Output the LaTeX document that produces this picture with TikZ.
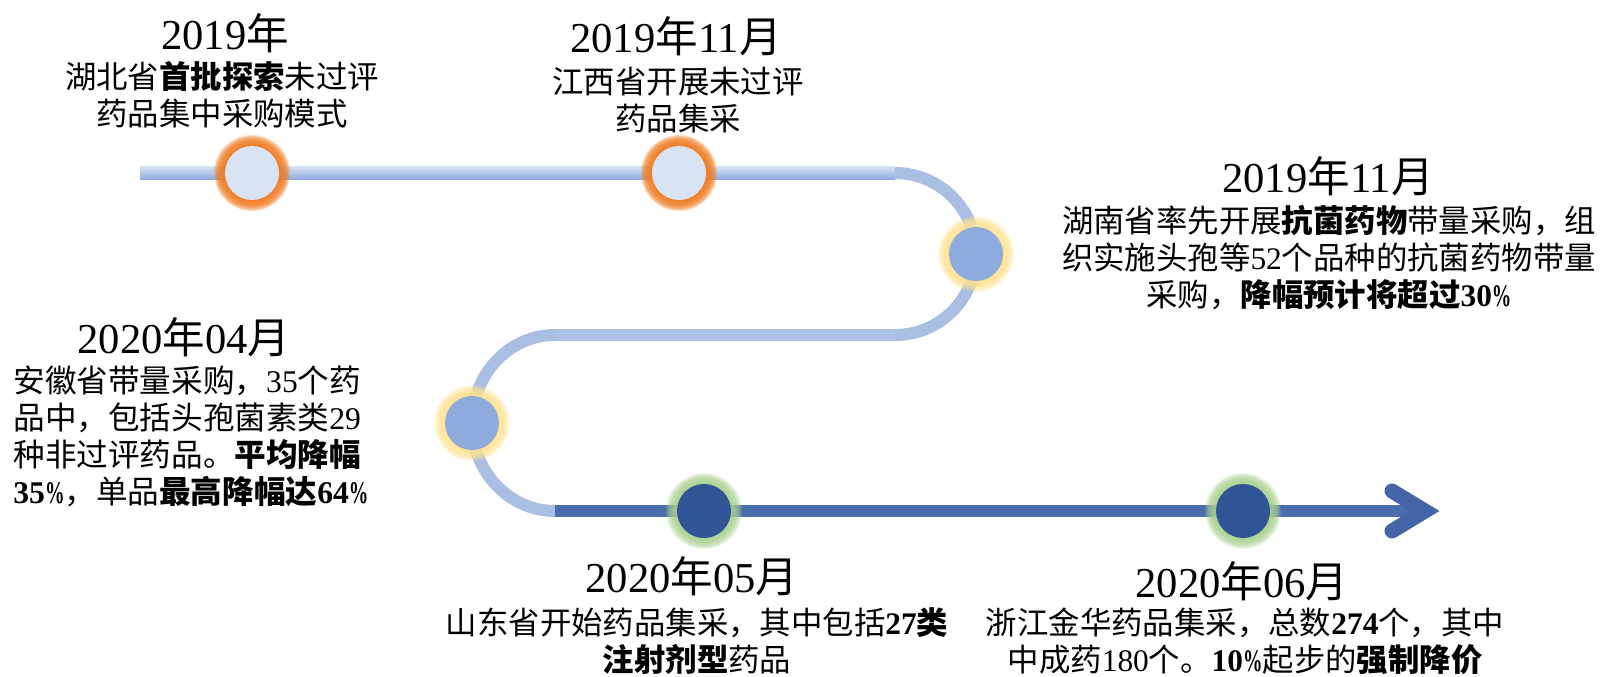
\documentclass[tikz,border=0pt]{standalone}
\usepackage{fontspec}
\usetikzlibrary{calc}
\setmainfont{Noto Sans CJK SC}
\newfontfamily\latf{Liberation Serif}
\newcommand\D[1]{{\latf #1}}
\newcommand\pct{\scalebox{0.62}[1]{\%}}
\definecolor{toplight}{HTML}{D6E0F2}
\definecolor{topdark}{HTML}{8EA9DB}
\definecolor{arccol}{HTML}{A9BEE3}
\definecolor{midcol}{HTML}{AEC2E6}
\definecolor{botcol}{HTML}{4A6DAE}
\definecolor{headcol}{HTML}{4466A8}
\definecolor{paleblue}{HTML}{DAE3F3}
\definecolor{midblue}{HTML}{8FAADC}
\definecolor{darkblue}{HTML}{2F5597}
\definecolor{glowor}{HTML}{F07F26}
\definecolor{glowye}{HTML}{FFE38F}
\definecolor{glowgr}{HTML}{A9D18E}
\newcommand\myglow[3]{\foreach \r in {27,28,...,38}{\fill[#2, opacity=#3] (#1) circle[radius=\r*0.5pt];}}
\begin{document}
\begin{tikzpicture}[x=0.5pt,y=-0.5pt,
  title/.style={font=\fontsize{21.3pt}{24pt}\selectfont, inner sep=0pt, align=center},
  body/.style={font=\fontsize{15.7pt}{18.5pt}\selectfont, inner sep=0pt, align=center},
  dot/.style={circle, minimum size=27pt, inner sep=0pt},
  pathline/.style={line width=6pt},
]
\useasboundingbox (0,0) rectangle (1604,676);
\fill[white] (0,0) rectangle (1604,676);
% path coordinates
\coordinate (s) at (140,173);
\coordinate (a1) at (895,173);
\coordinate (a2) at (895,335);
\coordinate (b1) at (555,335);
\coordinate (b2) at (555,511);
\coordinate (v) at (1425,511);
\coordinate (h1) at (1392,491);
\coordinate (h2) at (1392,531);
% lines
\shade[top color=toplight, bottom color=topdark] ($(s)+(0,-6.5)$) rectangle ($(a1)+(0,6.5)$);
\draw[pathline, arccol] (a1) arc[start angle=90, end angle=-90, radius=40.5pt];
\draw[pathline, midcol] (a2) -- (b1);
\draw[pathline, arccol] (b1) arc[start angle=90, end angle=270, x radius=41.5pt, y radius=44pt];
\draw[pathline, botcol] (b2) -- (v);
\draw[headcol, line width=7.5pt, line cap=round, line join=miter] (h1) -- (v) -- (h2);
% glows
\coordinate (p1) at (252,173);
\coordinate (p2) at (679,173);
\coordinate (p3) at (976,254);
\coordinate (p4) at (472,423);
\coordinate (p5) at (704,511);
\coordinate (p6) at (1243,511);
\myglow{p1}{glowor}{0.26}
\myglow{p2}{glowor}{0.26}
\myglow{p3}{glowye}{0.2}
\myglow{p4}{glowye}{0.2}
\myglow{p5}{glowgr}{0.2}
\myglow{p6}{glowgr}{0.2}
% dots
\node[dot, fill=paleblue] (c1) at (p1) {};
\node[dot, fill=paleblue] (c2) at (p2) {};
\node[dot, fill=midblue] (c3) at (p3) {};
\node[dot, fill=midblue] (c4) at (p4) {};
\node[dot, fill=darkblue] (c5) at (p5) {};
\node[dot, fill=darkblue] (c6) at (p6) {};
% texts
\node[title] (t1) at (225,33) {\D{2019}年};
\node[body] (d1) at (222,95) {湖北省\textbf{首批探索}未过评\\药品集中采购模式};
\node[title] (t2) at (676,36) {\D{2019}年\D{11}月};
\node[body] (d2) at (678,100) {江西省开展未过评\\药品集采};
\node[title] (t3) at (1328,176) {\D{2019}年\D{11}月};
\node[body] (d3) at (1329,258) {湖南省率先开展\textbf{抗菌药物}带量采购，组\\织实施头孢等\D{52}个品种的抗菌药物带量\\采购，\textbf{降幅预计将超过\D{30\pct}}};
\node[title] (t4) at (184,337) {\D{2020}年\D{04}月};
\node[body, align=left, anchor=west, font=\fontsize{15.8pt}{18.5pt}\selectfont] (d4) at (13,436) {安徽省带量采购，\D{35}个药\\品中，包括头孢菌素类\D{29}\\种非过评药品。\textbf{平均降幅}\\\textbf{\D{35\pct}}，单品\textbf{最高降幅达\D{64\pct}}};
\node[title] (t5) at (692,576) {\D{2020}年\D{05}月};
\node[body] (d5) at (697,641) {山东省开始药品集采，其中包括\textbf{\D{27}类}\\\textbf{注射剂型}药品};
\node[title] (t6) at (1242,581) {\D{2020}年\D{06}月};
\node[body] (d6) at (1245,641) {浙江金华药品集采，总数\textbf{\D{274}}个，其中\\中成药\D{180}个。\textbf{\D{10\pct}}起步的\textbf{强制降价}};
\end{tikzpicture}
\end{document}
